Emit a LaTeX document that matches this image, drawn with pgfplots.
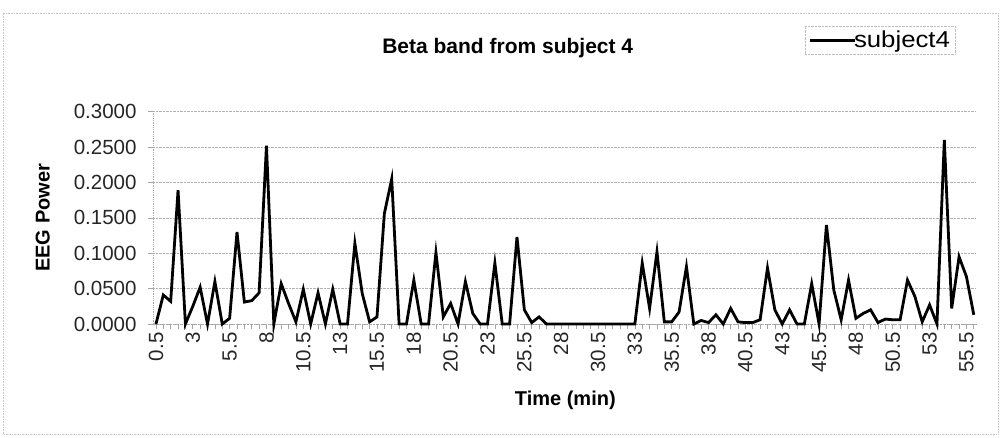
\documentclass[border=0pt]{standalone}
\usepackage{pgfplots}
\pgfplotsset{compat=1.18}
\usepackage{pgfplotstable}
\usepackage{fontspec}
\setmainfont{Liberation Sans}
\newfontfamily\legfont[FakeStretch=1.12]{Liberation Sans}
\pgfplotstableread{
t v
0.5 0.000
1 0.041
1.5 0.032
2 0.189
2.5 0.000
3 0.025
3.5 0.052
4 0.000
4.5 0.060
5 0.000
5.5 0.008
6 0.130
6.5 0.031
7 0.033
7.5 0.044
8 0.252
8.5 0.000
9 0.057
9.5 0.029
10 0.003
10.5 0.049
11 0.000
11.5 0.044
12 0.000
12.5 0.049
13 0.000
13.5 0.000
14 0.114
14.5 0.043
15 0.003
15.5 0.010
16 0.156
16.5 0.205
17 0.000
17.5 0.000
18 0.062
18.5 0.000
19 0.000
19.5 0.101
20 0.010
20.5 0.029
21 0.000
21.5 0.060
22 0.015
22.5 0.000
23 0.000
23.5 0.086
24 0.000
24.5 0.000
25 0.123
25.5 0.020
26 0.002
26.5 0.010
27 0.000
27.5 0.000
28 0.000
28.5 0.000
29 0.000
29.5 0.000
30 0.000
30.5 0.000
31 0.000
31.5 0.000
32 0.000
32.5 0.000
33 0.000
33.5 0.086
34 0.022
34.5 0.102
35 0.003
35.5 0.003
36 0.017
36.5 0.081
37 0.000
37.5 0.005
38 0.002
38.5 0.013
39 0.000
39.5 0.022
40 0.003
40.5 0.002
41 0.002
41.5 0.006
42 0.079
42.5 0.020
43 0.000
43.5 0.020
44 0.000
44.5 0.000
45 0.057
45.5 0.000
46 0.140
46.5 0.048
47 0.006
47.5 0.062
48 0.008
48.5 0.015
49 0.020
49.5 0.002
50 0.007
50.5 0.006
51 0.006
51.5 0.062
52 0.039
52.5 0.003
53 0.027
53.5 0.000
54 0.260
54.5 0.022
55 0.095
55.5 0.067
56 0.013
}\datatable
\begin{document}
\begin{tikzpicture}[x=1pt,y=1pt]
\path[use as bounding box] (0,0) rectangle (1001,437);
\draw[gray!45, densely dotted, line width=0.6pt] (3,3) rectangle (998,424);
\begin{axis}[
  at={(153pt,113pt)}, anchor=south west,
  scale only axis,
  width=823pt, height=212.3pt,
  xmin=0.3, xmax=56.15,
  ymin=0, ymax=0.3,
  axis lines=left,
  axis line style={-, gray!70, densely dotted, line width=0.8pt},
  ytick={0,0.05,0.1,0.15,0.2,0.25,0.3},
  ymajorgrids,
  major grid style={gray!60, densely dotted, line width=0.7pt},
  xtick={0.5,3,5.5,8,10.5,13,15.5,18,20.5,23,25.5,28,30.5,33,35.5,38,40.5,43,45.5,48,50.5,53,55.5},
  xticklabels={0.5,3,5.5,8,10.5,13,15.5,18,20.5,23,25.5,28,30.5,33,35.5,38,40.5,43,45.5,48,50.5,53,55.5},
  minor xtick={0.5,1,1.5,2,2.5,3,3.5,4,4.5,5,5.5,6,6.5,7,7.5,8,8.5,9,9.5,10,10.5,11,11.5,12,12.5,13,13.5,14,14.5,15,15.5,16,16.5,17,17.5,18,18.5,19,19.5,20,20.5,21,21.5,22,22.5,23,23.5,24,24.5,25,25.5,26,26.5,27,27.5,28,28.5,29,29.5,30,30.5,31,31.5,32,32.5,33,33.5,34,34.5,35,35.5,36,36.5,37,37.5,38,38.5,39,39.5,40,40.5,41,41.5,42,42.5,43,43.5,44,44.5,45,45.5,46,46.5,47,47.5,48,48.5,49,49.5,50,50.5,51,51.5,52,52.5,53,53.5,54,54.5,55,55.5,56},
  tick align=outside,
  major tick length=5pt, minor tick length=5pt,
  tick style={gray!70, line width=0.6pt},
  x tick label style={rotate=90, anchor=east, font=\fontsize{20.5}{22}\selectfont, text=black!85},
  y tick label style={font=\fontsize{20.5}{22}\selectfont, text=black!85, xshift=-8pt},
  yticklabel style={/pgf/number format/.cd, fixed, fixed zerofill, precision=4, assume math mode=true},
  xticklabel style={/pgf/number format/assume math mode=true},
  xlabel={\textbf{Time (min)}},
  ylabel={\textbf{EEG Power}},
  label style={font=\fontsize{20}{22}\selectfont},
  xlabel style={at={(axis description cs:0.501,-0.358)}, anchor=center},
  ylabel style={at={(axis description cs:-0.134,0.5)}, anchor=center},
  legend style={at={(0.792,1.405)}, anchor=north west, draw=gray!50, densely dotted, font=\legfont\fontsize{23}{25}\selectfont, inner xsep=3pt, inner ysep=3pt, legend cell align=left},
  legend image code/.code={\draw[black, solid, line width=3pt] (0pt,0pt) -- (45pt,0pt);},
  clip=false,
]
\addplot[black, line width=2.8pt, mark=none] table[x=t, y=v] {\datatable};
\addlegendentry{\hspace{-4pt}subject4}
\node[font=\bfseries\fontsize{21}{23}\selectfont, anchor=center] at (axis description cs:0.431,1.30) {Beta band from subject 4};
\end{axis}
\end{tikzpicture}
\end{document}
